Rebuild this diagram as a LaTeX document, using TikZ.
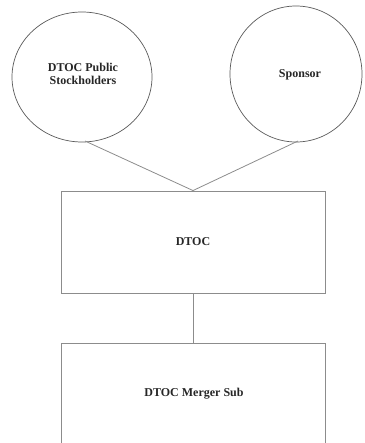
\documentclass[tikz,border=0pt]{standalone}
\usepackage{fontspec}
\setmainfont{Liberation Serif}
\usetikzlibrary{shapes.geometric}
\begin{document}
\begin{tikzpicture}[x=1pt,y=1pt,
  party/.style={draw=black!65, line width=0.7pt, ellipse, inner sep=0pt},
  entity/.style={draw=black!45, line width=0.9pt, rectangle, inner sep=0pt},
  lbl/.style={font=\bfseries\fontsize{12}{13}\selectfont, align=center, text=black!85},
  link/.style={draw=black!45, line width=0.8pt}]
\useasboundingbox (0,0) rectangle (364,-443);
\clip (0,0) rectangle (364,-443);
\node[party, minimum width=140, minimum height=130] (pub) at (82,-77) {};
\node[lbl] at (83,-74) {DTOC Public\\Stockholders};
\node[party, minimum width=132, minimum height=136] (spon) at (296,-74) {};
\node[lbl] at (300,-75) {Sponsor};
\node[entity, minimum width=264, minimum height=102] (dtoc) at (193,-242) {};
\node[lbl] at (dtoc.center) {DTOC};
\node[entity, minimum width=264, minimum height=120] (sub) at (193,-403) {};
\node[lbl] at (194,-394) {DTOC Merger Sub};
\coordinate (pubfoot) at (85,-141);
\coordinate (sponfoot) at (298,-141);
\draw[link] (pubfoot) -- (dtoc.north);
\draw[link] (sponfoot) -- (dtoc.north);
\draw[link] (dtoc.south) -- (sub.north);
\end{tikzpicture}
\end{document}
